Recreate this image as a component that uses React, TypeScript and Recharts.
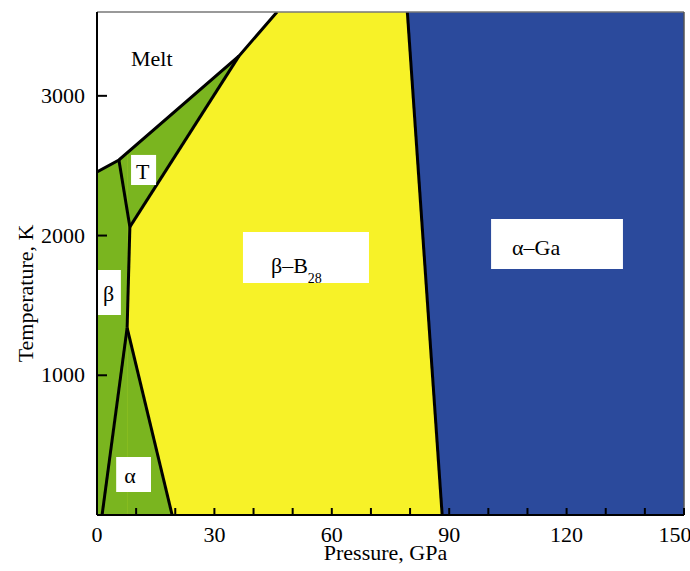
import React from 'react'
import {
  ComposedChart,
  Area,
  Line,
  XAxis,
  YAxis,
  ReferenceArea,
  ReferenceLine
} from 'recharts'

const FONT = 'Liberation Serif, DejaVu Serif, serif'

// axes
const pressureTicks = [0, 10, 20, 30, 40, 50, 60, 70, 80, 90, 100, 110, 120, 130, 140, 150]
const pressureLabels = [0, 30, 60, 90, 120, 150]
const temperatureTicks = [1000, 2000, 3000]

// phase boundaries, p in GPa, t in K
const meltCurve = [
  { p: 0, t: 2455 },
  { p: 5.6, t: 2541 },
  { p: 36.3, t: 3286 },
  { p: 46, t: 3600 }
]
const tBetaLine = [
  { p: 5.6, t: 2541 },
  { p: 8.4, t: 2062 }
]
const tB28Line = [
  { p: 8.4, t: 2062 },
  { p: 36.3, t: 3286 }
]
const betaB28Line = [
  { p: 8.4, t: 2062 },
  { p: 7.7, t: 1339 }
]
const alphaBetaLine = [
  { p: 7.7, t: 1339 },
  { p: 1.3, t: 0 }
]
const alphaB28Line = [
  { p: 7.7, t: 1339 },
  { p: 19.2, t: 0 }
]
const b28GaLine = [
  { p: 79.3, t: 3600 },
  { p: 88.2, t: 0 }
]

// filled phase fields as [low, high] ranges
const b28Field = [
  { p: 0, range: [0, 3600] },
  { p: 150, range: [0, 3600] }
]
const meltField = [
  { p: 0, range: [2455, 3600] },
  { p: 5.6, range: [2541, 3600] },
  { p: 36.3, range: [3286, 3600] },
  { p: 46, range: [3600, 3600] }
]
const betaField = [
  { p: 0, range: [0, 2455] },
  { p: 5.6, range: [0, 2541] },
  { p: 7.7, range: [0, 2592] }
]
const alphaField = [
  { p: 7.7, range: [0, 1339] },
  { p: 19.2, range: [0, 0] }
]
const tField = [
  { p: 7.7, range: [1339, 2592] },
  { p: 8.4, range: [2062, 2609] },
  { p: 36.3, range: [3286, 3286] }
]
const gaField = [
  { p: 79.3, range: [3600, 3600] },
  { p: 88.2, range: [0, 3600] },
  { p: 150, range: [0, 3600] }
]

const boundaries = [meltCurve, tBetaLine, tB28Line, betaB28Line, alphaBetaLine, alphaB28Line, b28GaLine]

const textStyle = { fontFamily: FONT, fontSize: 22, fill: '#000' }

const boxText = (text: string, sub: string, dx: number, base: number) => (props: any) => {
  const vb = props.viewBox
  return (
    <text x={vb.x + dx} y={vb.y + base} style={textStyle}>
      {text}
      {sub ? <tspan dy={10} style={{ fontSize: 14, fill: '#000' }}>{sub}</tspan> : null}
    </text>
  )
}

const PressureTick = (props: any) => {
  const { x, y, payload } = props
  const v = payload.value
  if (!pressureLabels.includes(v)) return null
  // the last label sits inside the frame
  const shift = v === 150 ? -9 : 0
  return (
    <text x={x + shift} y={y + 14} textAnchor="middle" style={textStyle}>
      {v}
    </text>
  )
}

const TemperatureTick = (props: any) => {
  const { x, y, payload } = props
  return (
    <text x={x} y={y + 7} textAnchor="end" style={textStyle}>
      {payload.value}
    </text>
  )
}

const YLabel = (props: any) => {
  const vb = props.viewBox
  const cx = vb.x + 33
  const cy = vb.y + vb.height / 2 + 30
  return (
    <text x={cx} y={cy} transform={`rotate(-90 ${cx} ${cy})`} textAnchor="middle" style={textStyle}>
      Temperature, K
    </text>
  )
}

const XLabel = (props: any) => {
  const vb = props.viewBox
  return (
    <text x={vb.x + vb.width / 2 - 5} y={560} textAnchor="middle" style={textStyle}>
      Pressure, GPa
    </text>
  )
}

const BoronPhaseDiagram: React.FC = () => {
  return (
    <div style={{ position: 'absolute', left: 0, top: 0, width: 690, height: 571, background: '#fff' }}>
      <ComposedChart width={690} height={571} margin={{ top: 12, right: 6, bottom: 0, left: 0 }}>
        <XAxis
          type="number"
          dataKey="p"
          domain={[0, 150]}
          ticks={pressureTicks}
          interval={0}
          tickSize={-7}
          tickMargin={20}
          height={56}
          axisLine={{ stroke: '#000', strokeWidth: 2 }}
          tickLine={{ stroke: '#000', strokeWidth: 2 }}
          tick={<PressureTick />}
          label={XLabel}
          allowDataOverflow
        />
        <YAxis
          type="number"
          domain={[0, 3600]}
          ticks={temperatureTicks}
          interval={0}
          tickSize={-10}
          tickMargin={22}
          width={97}
          axisLine={{ stroke: '#000', strokeWidth: 2 }}
          tickLine={{ stroke: '#000', strokeWidth: 2 }}
          tick={<TemperatureTick />}
          label={YLabel}
          allowDataOverflow
        />
        <Area data={b28Field} dataKey="range" type="linear" stroke="none" fill="#f7f228" fillOpacity={1} dot={false} activeDot={false} isAnimationActive={false} />
        <Area data={gaField} dataKey="range" type="linear" stroke="none" fill="#2b4a9c" fillOpacity={1} dot={false} activeDot={false} isAnimationActive={false} />
        <Area data={betaField} dataKey="range" type="linear" stroke="none" fill="#7ab51f" fillOpacity={1} dot={false} activeDot={false} isAnimationActive={false} />
        <Area data={alphaField} dataKey="range" type="linear" stroke="none" fill="#7ab51f" fillOpacity={1} dot={false} activeDot={false} isAnimationActive={false} />
        <Area data={tField} dataKey="range" type="linear" stroke="none" fill="#7ab51f" fillOpacity={1} dot={false} activeDot={false} isAnimationActive={false} />
        <Area data={meltField} dataKey="range" type="linear" stroke="none" fill="#ffffff" fillOpacity={1} dot={false} activeDot={false} isAnimationActive={false} />
        {boundaries.map((b, i) => (
          <Line key={i} data={b} dataKey="t" type="linear" stroke="#000" strokeWidth={3} dot={false} activeDot={false} isAnimationActive={false} />
        ))}
        <ReferenceLine y={3600} stroke="#777" strokeWidth={1.5} />
        <ReferenceLine x={150} stroke="#555" strokeWidth={1.5} />
        <ReferenceArea x1={8.7} x2={20} y1={3100} y2={3500} fill="none" stroke="none" label={boxText('Melt', '', 0, 40)} zIndex={2000} />
        <ReferenceArea x1={8.7} x2={15.1} y1={2362} y2={2577} fill="#fff" fillOpacity={1} stroke="none" label={boxText('T', '', 5, 24)} zIndex={2000} />
        <ReferenceArea x1={0.26} x2={6.1} y1={1431} y2={1754} fill="#fff" fillOpacity={1} stroke="none" label={boxText('β', '', 5, 31)} zIndex={2000} />
        <ReferenceArea x1={4.9} x2={13.8} y1={165} y2={415} fill="#fff" fillOpacity={1} stroke="none" label={boxText('α', '', 8, 26)} zIndex={2000} />
        <ReferenceArea x1={37.3} x2={69.5} y1={1660} y2={2025} fill="#fff" fillOpacity={1} stroke="none" label={boxText('β–B', '28', 28, 41)} zIndex={2000} />
        <ReferenceArea x1={100.7} x2={134.4} y1={1761} y2={2119} fill="#fff" fillOpacity={1} stroke="none" label={boxText('α–Ga', '', 21, 36)} zIndex={2000} />
      </ComposedChart>
    </div>
  )
}

export default function App() {
  return <BoronPhaseDiagram />
}
